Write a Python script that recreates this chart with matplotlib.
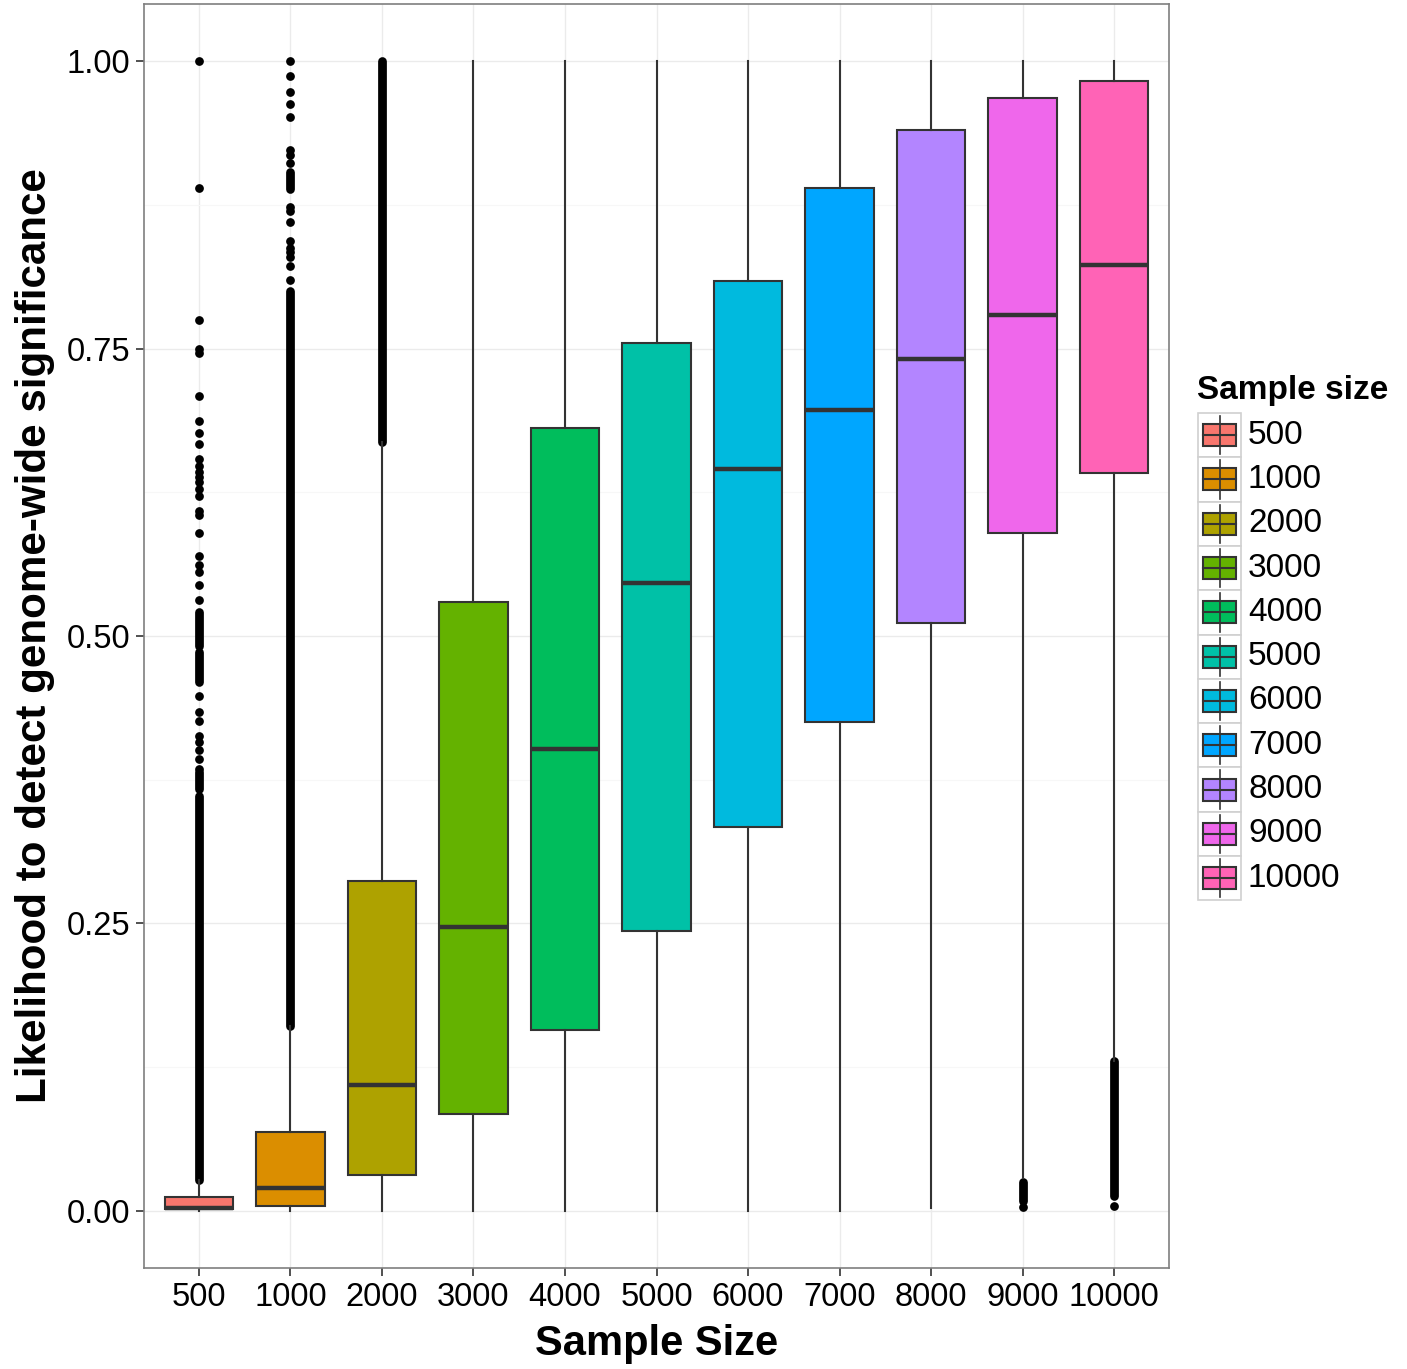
import numpy as np
from matplotlib import pyplot as plt
from matplotlib import font_manager
from matplotlib.patches import Rectangle

# boxplot statistics
sizes = ["500", "1000", "2000", "3000", "4000", "5000", "6000", "7000", "8000", "9000", "10000"]
whislo = [0.000, 0.000, 0.000, 0.000, 0.000, 0.000, 0.000, 0.000, 0.002, 0.028, 0.130]
q1 = [0.001, 0.004, 0.031, 0.084, 0.157, 0.243, 0.334, 0.425, 0.511, 0.590, 0.642]
med = [0.002, 0.020, 0.109, 0.247, 0.402, 0.546, 0.645, 0.697, 0.741, 0.779, 0.823]
q3 = [0.012, 0.068, 0.287, 0.530, 0.681, 0.755, 0.809, 0.890, 0.940, 0.968, 0.983]
whishi = [0.027, 0.161, 0.669, 1.000, 1.000, 1.000, 1.000, 1.000, 1.000, 1.000, 1.000]

# single outliers
fliers = {
    "500": [1.000, 0.890, 0.775, 0.750, 0.746, 0.709, 0.687, 0.677, 0.667, 0.654,
            0.648, 0.643, 0.638, 0.634, 0.628, 0.622, 0.609, 0.605, 0.590, 0.570,
            0.562, 0.556, 0.544, 0.531, 0.448, 0.434, 0.426, 0.413, 0.408, 0.401,
            0.393, 0.384],
    "1000": [1.000, 0.987, 0.973, 0.963, 0.952, 0.923, 0.919, 0.912, 0.873, 0.870,
             0.860, 0.844, 0.838, 0.834, 0.830, 0.822, 0.810],
    "9000": [0.0035],
    "10000": [0.004],
}
# runs of outliers so dense they merge into a solid bar (low, high)
flier_runs = {
    "500": [(0.491, 0.521), (0.460, 0.486), (0.367, 0.382), (0.027, 0.361)],
    "1000": [(0.889, 0.904), (0.161, 0.800)],
    "2000": [(0.669, 1.000)],
    "9000": [(0.008, 0.025)],
    "10000": [(0.013, 0.130)],
}

colors = ["#F8766D", "#DB8E00", "#AEA200", "#64B200", "#00BD5C", "#00C1A7",
          "#00BADE", "#00A6FF", "#B385FF", "#EF67EB", "#FF63B6"]


def pick_font(names):
    for n in names:
        try:
            font_manager.findfont(n, fallback_to_default=False)
            return n
        except Exception:
            pass
    return "DejaVu Sans"


plt.rcParams['font.family'] = [pick_font(["Liberation Sans"]), "DejaVu Sans"]

W, H = 1407, 1369
fig = plt.figure(figsize=(W / 100, H / 100), dpi=100)
ax = fig.add_axes([144 / W, 1 - 1268 / H, (1169 - 144) / W, (1268 - 4) / H])

edge = "#333333"
stats = []
for i, s in enumerate(sizes):
    stats.append(dict(med=med[i], q1=q1[i], q3=q3[i], whislo=whislo[i], whishi=whishi[i], fliers=[]))
pos = np.arange(1, len(sizes) + 1)

# outliers first, like ggplot
for i, s in enumerate(sizes):
    x = pos[i]
    for lo, hi in flier_runs.get(s, []):
        ax.plot([x, x], [lo, hi], color="black", lw=6.3, solid_capstyle="round", zorder=2)
    pts = fliers.get(s, [])
    if pts:
        ax.plot([x] * len(pts), pts, "o", color="black", ms=6.3, mew=0, zorder=2)

bp = ax.bxp(stats, positions=pos, widths=0.75, patch_artist=True, showcaps=False,
            boxprops=dict(edgecolor=edge, linewidth=1.5),
            whiskerprops=dict(color=edge, linewidth=1.5),
            medianprops=dict(color=edge, linewidth=3.2),
            zorder=3)
for patch, c in zip(bp["boxes"], colors):
    patch.set_facecolor(c)

ax.set_xlim(0.4, len(sizes) + 0.6)
ax.set_ylim(-0.05, 1.05)
ax.set_xticks(pos)
ax.set_xticklabels(sizes)
ax.set_yticks([0, 0.25, 0.5, 0.75, 1.0])
ax.set_yticklabels(["0.00", "0.25", "0.50", "0.75", "1.00"])
ax.set_yticks([0.125, 0.375, 0.625, 0.875], minor=True)
ax.tick_params(axis="both", which="major", labelsize=23.5, length=6, width=1.2,
               color="#333333", pad=4)
ax.tick_params(axis="y", which="minor", length=0)
ax.grid(True, which="major", color="#ebebeb", lw=1.0, zorder=0)
ax.grid(True, which="minor", axis="y", color="#f7f7f7", lw=0.8, zorder=0)
ax.set_axisbelow(True)
for sp in ax.spines.values():
    sp.set_color("#7f7f7f")
    sp.set_linewidth(1.2)

ax.set_xlabel("Sample Size", fontsize=30, fontweight="bold", labelpad=8)
ax.set_ylabel("Likelihood to detect genome-wide significance", fontsize=30.3,
              fontweight="bold", labelpad=8)

# legend drawn by hand in pixel units
lax = fig.add_axes([1185 / W, 1 - 910 / H, (W - 1185) / W, (910 - 360) / H])
lax.set_xlim(1185, W)
lax.set_ylim(910, 360)
lax.axis("off")
lax.text(1197, 390, "Sample size", fontsize=24, fontweight="bold", va="center", ha="left")
key_top = 413
key_h = 44.3
for i, (s, c) in enumerate(zip(sizes, colors)):
    y0 = key_top + i * key_h
    yc = y0 + key_h / 2
    lax.add_patch(Rectangle((1198, y0), 43, key_h, facecolor="white",
                            edgecolor="#d0d0d0", lw=1.2))
    lax.plot([1219.5, 1219.5], [y0 + 3, y0 + key_h - 3], color=edge, lw=1.2)
    lax.add_patch(Rectangle((1203, yc - 11), 33, 22, facecolor=c, edgecolor=edge, lw=1.5))
    lax.plot([1203, 1236], [yc, yc], color=edge, lw=1.5)
    lax.text(1248, yc, s, fontsize=24, va="center", ha="left")

fig.savefig("out.png", dpi=100)
